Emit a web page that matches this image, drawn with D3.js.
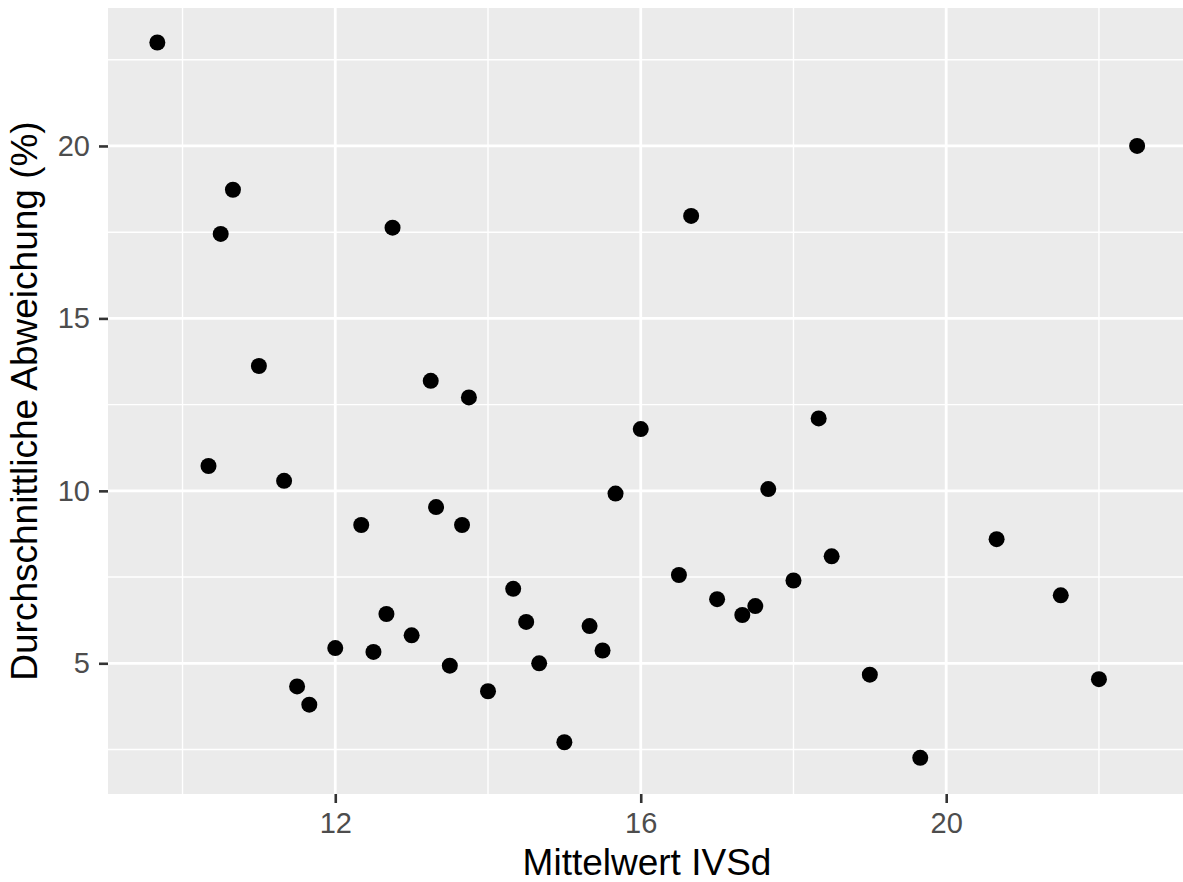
<!DOCTYPE html>
<html>
<head>
<meta charset="utf-8">
<script src="https://cdn.jsdelivr.net/npm/d3@7"></script>
<style>
  body { margin: 0; background: #fff; }
  svg { display: block; font-family: "Liberation Sans", Arial, Helvetica, sans-serif; }
</style>
</head>
<body>
<div class="chart"></div>
<script>
// values
var mittelwert = [9.67, 10.66, 10.50, 12.75, 11.00, 13.25, 13.75, 10.34, 11.33, 12.34,
                  13.32, 13.66, 15.67, 17.67, 14.33, 12.67, 13.00, 14.50, 15.33, 15.50,
                  13.50, 14.67, 14.00, 15.00, 16.50, 17.00, 17.33, 17.50, 16.00, 18.33,
                  18.50, 18.00, 20.66, 21.50, 19.00, 22.00, 19.66, 11.50, 11.66, 12.00,
                  12.50, 16.66, 22.50];
var abweichung = [23.00, 18.73, 17.45, 17.63, 13.62, 13.19, 12.71, 10.72, 10.29, 9.01,
                  9.53, 9.01, 9.92, 10.05, 7.16, 6.43, 5.81, 6.20, 6.08, 5.37,
                  4.93, 5.00, 4.19, 2.71, 7.56, 6.86, 6.40, 6.66, 11.79, 12.10,
                  8.10, 7.40, 8.60, 6.97, 4.67, 4.54, 2.26, 4.33, 3.80, 5.44,
                  5.33, 17.97, 20.00];
var xTicks = [12, 16, 20];
var xMinor = [10, 14, 18, 22];
var yTicks = [5, 10, 15, 20];
var yMinor = [2.5, 7.5, 12.5, 17.5, 22.5];

var xLabel = "Mittelwert IVSd";
var yLabel = "Durchschnittliche Abweichung (%)";

var svgWidth = 1183,
    svgHeight = 882,
    panel = {left: 108, top: 8, right: 1186, bottom: 794};

var data = mittelwert.map(function(d, i) { return {x: d, y: abweichung[i]}; });

var svg = d3.select(".chart")
    .append("svg")
    .attr("width", svgWidth)
    .attr("height", svgHeight);

var x = d3.scaleLinear().domain([9.024, 23.14]).range([panel.left, panel.right]);
var y = d3.scaleLinear().domain([1.21, 24.0]).range([panel.bottom, panel.top]);

// panel background
svg.append("rect")
    .attr("x", panel.left)
    .attr("y", panel.top)
    .attr("width", panel.right - panel.left)
    .attr("height", panel.bottom - panel.top)
    .attr("fill", "#EBEBEB");

var grid = svg.append("g");

// minor grid
grid.selectAll(".xminor").data(xMinor).enter().append("line")
    .attr("x1", function(d) { return x(d); }).attr("x2", function(d) { return x(d); })
    .attr("y1", panel.top).attr("y2", panel.bottom)
    .attr("stroke", "#fff").attr("stroke-width", 1.4);
grid.selectAll(".yminor").data(yMinor).enter().append("line")
    .attr("x1", panel.left).attr("x2", panel.right)
    .attr("y1", function(d) { return y(d); }).attr("y2", function(d) { return y(d); })
    .attr("stroke", "#fff").attr("stroke-width", 1.4);

// major grid
grid.selectAll(".xmajor").data(xTicks).enter().append("line")
    .attr("x1", function(d) { return x(d); }).attr("x2", function(d) { return x(d); })
    .attr("y1", panel.top).attr("y2", panel.bottom)
    .attr("stroke", "#fff").attr("stroke-width", 2.8);
grid.selectAll(".ymajor").data(yTicks).enter().append("line")
    .attr("x1", panel.left).attr("x2", panel.right)
    .attr("y1", function(d) { return y(d); }).attr("y2", function(d) { return y(d); })
    .attr("stroke", "#fff").attr("stroke-width", 2.8);

// points
svg.append("g")
    .selectAll("circle")
    .data(data)
    .enter().append("circle")
    .attr("cx", function(d) { return x(d.x); })
    .attr("cy", function(d) { return y(d.y); })
    .attr("r", 8)
    .attr("fill", "#000");

// axes
var xAxis = d3.axisBottom(x).tickValues(xTicks).tickSize(9).tickPadding(9).tickFormat(d3.format("d"));
var yAxis = d3.axisLeft(y).tickValues(yTicks).tickSize(9).tickPadding(9).tickFormat(d3.format("d"));

var gx = svg.append("g")
    .attr("transform", "translate(0," + panel.bottom + ")")
    .call(xAxis);
var gy = svg.append("g")
    .attr("transform", "translate(" + panel.left + ",0)")
    .call(yAxis);

[gx, gy].forEach(function(g) {
    g.select(".domain").remove();
    g.selectAll(".tick line").attr("stroke", "#333333").attr("stroke-width", 2.6);
    g.selectAll(".tick text")
        .attr("fill", "#4D4D4D")
        .style("font-size", "29px")
        .style("font-family", "'Liberation Sans', Arial, sans-serif");
});

// axis titles, centred on the panel
svg.append("text")
    .attr("x", (panel.left + panel.right) / 2)
    .attr("y", 875)
    .attr("text-anchor", "middle")
    .style("font-size", "37px")
    .attr("fill", "#000")
    .text(xLabel);

svg.append("text")
    .attr("transform", "translate(37," + (panel.top + panel.bottom) / 2 + ") rotate(-90)")
    .attr("text-anchor", "middle")
    .style("font-size", "37px")
    .attr("fill", "#000")
    .text(yLabel);
</script>
</body>
</html>
